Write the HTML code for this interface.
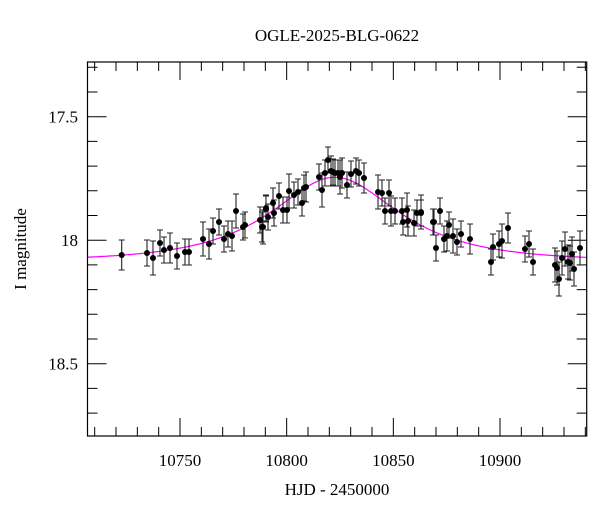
<!DOCTYPE html>
<html><head><meta charset="utf-8"><style>
html,body{margin:0;padding:0;background:#fff;}
svg{display:block;font-family:"Liberation Serif",serif;}
</style></head><body>
<svg id="s" width="600" height="512" xmlns="http://www.w3.org/2000/svg">
<text x="337" y="41" font-size="17" text-anchor="middle">OGLE-2025-BLG-0622</text>
<text x="337" y="495" font-size="17" text-anchor="middle">HJD - 2450000</text>
<text transform="translate(26,249) rotate(-90)" font-size="17" text-anchor="middle">I magnitude</text>
<g id="g"></g>
<rect x="87.5" y="62" width="499.2" height="374" fill="none" stroke="#000" stroke-width="1.2"/>
</svg>
<script>
const g=document.getElementById('g');const NS='http://www.w3.org/2000/svg';
function el(t,a){const e=document.createElementNS(NS,t);for(const k in a)e.setAttribute(k,a[k]);g.appendChild(e);return e;}
const L=87.5,R=586.7,T=62,B=436;
const X=t=>500+(t-10900)*2.1333, Y=m=>240.2+(m-18)*247;
let s='';
for(let t=10710;t<=10940;t+=10){const x=X(t);const maj=t%50==0;const l=maj?18:9;
 s+=`M${x},${B}v${-l}M${x},${T}v${l}`;
 if(maj)el('text',{x:x,y:466,'font-size':17,'text-anchor':'middle'}).textContent=t;}
for(let k=173;k<=187;k++){const m=k/10;const y=Y(m);if(y<T-0.5||y>B)continue;const maj=k%5==0;const l=maj?19:10;
 s+=`M${L},${y}h${l}M${R},${y}h${-l}`;
 if(maj)el('text',{x:78,y:y+6,'font-size':17,'text-anchor':'end'}).textContent=(k%10==0?(k/10).toFixed(0):(k/10).toFixed(1));}
el('path',{d:s,stroke:'#000','stroke-width':1,fill:'none'});
const t0=10822.6,tE=47,u0=0.67,fs=0.5,yb=261;
let c='';
for(let x=L;x<=R;x+=1){const t=10900+(x-500)/2.1333;const tau=(t-t0)/tE;const u=Math.sqrt(u0*u0+tau*tau);
 const A=(u*u+2)/(u*Math.sqrt(u*u+4));const dm=2.5*Math.log10(fs*(A-1)+1);const y=yb-dm*247;
 c+=(c?'L':'M')+x.toFixed(1)+','+y.toFixed(1);}
el('path',{d:c,stroke:'#f0f','stroke-width':1.2,fill:'none'});
const pts=[[121.7,255],[147,253],[153,258],[160,243],[164,250],[170,248],[177,256],[185,252],[189,252],[203,239],[209,244],[213,231],[219,222],[224,239],[228,234],[232,236],[236,211],[243,227],[245,225],[260,220],[262,227],[266,208],[268,217],[263,227],[266,209],[273,203],[274,213],[279,196],[283,210],[287,210],[289,191],[294,195],[298,192],[302,203],[304,188],[306,187],[319,177],[322,190],[325,173],[328,160],[331,171],[333,172],[335,173],[338,173],[340,177],[342,173],[347,185],[351,174],[356,171],[359,173],[364,178],[378,192],[382,193],[385,211],[389,193],[391,211],[395,211],[402,211],[407,210],[403,222],[408,221],[414,223],[417,213],[421,213],[433,222],[421,212],[434,222],[436,248],[440,211],[444,239],[447,236],[449,225],[453,236],[457,242],[461,234],[470,239],[491,262],[493,247],[499,244],[502,241],[508,228],[525,249],[529,244],[533,262],[555,265],[557,268],[559,279],[562,258],[565,249],[568,262],[570,263],[572,254],[574,269],[580,248]];
let e='';
pts.forEach(([x,y],i)=>{const h=(i%7==2||x>550)?17:(i%5==0?15:13);e+=`M${x},${y-h}v${2*h}M${x-3},${y-h}h6M${x-3},${y+h}h6`;});
el('path',{d:e,stroke:'#222','stroke-width':1.1,fill:'none'});
pts.forEach(([x,y])=>el('circle',{cx:x,cy:y,r:3,fill:'#000'}));
</script>
</body></html>
